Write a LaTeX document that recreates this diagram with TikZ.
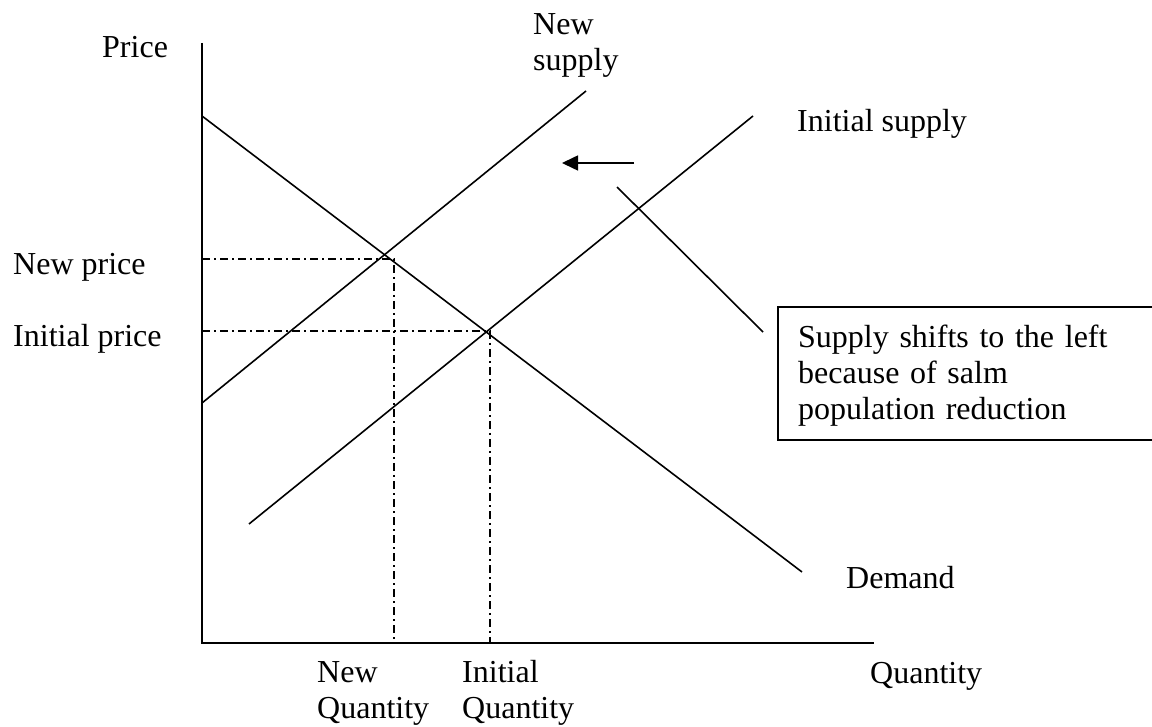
\documentclass[tikz,border=0pt]{standalone}
\usepackage{fontspec}
\setmainfont{Liberation Serif}
\usetikzlibrary{arrows.meta}

\begin{document}
\begin{tikzpicture}[x=1pt,y=-1pt,
  axis/.style={line width=2pt},
  curve/.style={line width=1.6pt},
  guide/.style={line width=1.3pt,dash pattern=on 8pt off 4pt on 2pt off 4pt},
  lbl/.style={anchor=base west,inner sep=0pt,font=\fontsize{32}{36}\selectfont},
  lbltwo/.style={lbl,text width=#1,align=left}]
\useasboundingbox (0,0) rectangle (1152,727);
\clip (0,0) rectangle (1152,727);
% axes
\coordinate (ptop) at (202,43);
\coordinate (origin) at (202,643);
\coordinate (qend) at (874,643);
\draw[axis] (ptop) -- (origin) -- (qend);
% curves
\coordinate (dem0) at (202,116);
\coordinate (dem1) at (802,572);
\coordinate (sup0) at (249,524);
\coordinate (sup1) at (753,116);
\coordinate (nsup0) at (202,403);
\coordinate (nsup1) at (586,91);
\draw[curve] (dem0) -- (dem1);
\draw[curve] (sup0) -- (sup1);
\draw[curve] (nsup0) -- (nsup1);
% equilibrium guides
\coordinate (newp) at (202,259);
\coordinate (newpt) at (394,259);
\coordinate (newq) at (394,643);
\coordinate (initp) at (202,331);
\coordinate (initpt) at (490,331);
\coordinate (initq) at (490,643);
\draw[guide] (newp) -- (newpt) -- (newq);
\draw[guide] (initp) -- (initpt) -- (initq);
% shift arrow and note
\coordinate (shift0) at (634,163);
\coordinate (shift1) at (562,163);
\draw[curve,-{Triangle[length=16pt,width=15pt]}] (shift0) -- (shift1);
\draw[line width=1.5pt] (778,307) rectangle (1190,440);
\node[lbltwo=360pt] (cause) at (798,348) {Supply shifts to the left\\because of salm\\population reduction};
\coordinate (ptr0) at (617,187);
\coordinate (ptr1) at (763,332);
\draw[curve] (ptr0) -- (ptr1);
% labels
\node[lbl] (price) at (102,58) {Price};
\node[lbl] (quantity) at (870,683) {Quantity};
\node[lbltwo=120pt] (newsup) at (533,35) {New\\supply};
\node[lbl] (initsup) at (797,132) {Initial supply};
\node[lbl] (newprice) at (13,275) {New price};
\node[lbl] (initprice) at (13,347) {Initial price};
\node[lbl] (demand) at (846,588) {Demand};
\node[lbltwo=130pt] (newqty) at (317,682) {New\\Quantity};
\node[lbltwo=130pt] (initqty) at (462,682) {Initial\\Quantity};
\end{tikzpicture}
\end{document}
